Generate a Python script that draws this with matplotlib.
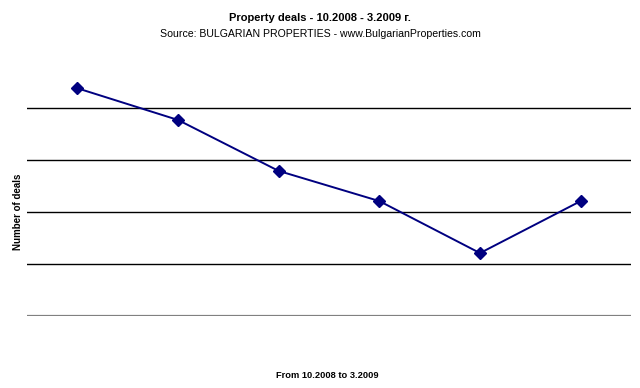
import matplotlib
matplotlib.use("Agg")
import matplotlib.pyplot as plt

# monthly deals (no scale shown on the original)
months = ["10.2008", "11.2008", "12.2008", "1.2009", "2.2009", "3.2009"]
deals = [4.38, 3.77, 2.79, 2.21, 1.21, 2.21]
grid_levels = [1, 2, 3, 4]

plt.rcParams['font.family'] = ['Liberation Sans', 'DejaVu Sans']

fig = plt.figure(figsize=(6.4, 3.88), dpi=100)
ax = fig.add_axes([27/640, 1 - 316/388, 604/640, 260/388])

xs = [i + 0.5 for i in range(len(months))]
ax.plot(xs, deals, color="#000080", linewidth=1.4, marker="D", markersize=6)

for g in grid_levels:
    ax.axhline(g, color="#000000", linewidth=1.0, zorder=0)
ax.axhline(0, color="#808080", linewidth=1.6, zorder=0)

ax.set_xlim(0, len(months))
ax.set_ylim(0, 5)
ax.set_xticks([])
ax.set_yticks([])
for s in ax.spines.values():
    s.set_visible(False)

fig.text(0.5, 1 - 18/388, "Property deals - 10.2008 - 3.2009 г.", ha="center", va="center",
         fontsize=8, fontweight="bold")
fig.text(0.5, 1 - 34/388, "Source: BULGARIAN PROPERTIES - www.BulgarianProperties.com",
         ha="center", va="center", fontsize=7.6)
fig.text(18/640, 1 - 212/388, "Number of deals", rotation=90, ha="center", va="center",
         fontsize=7, fontweight="bold")
fig.text(327/640, 1 - 376/388, "From 10.2008 to 3.2009", ha="center", va="center",
         fontsize=6.7, fontweight="bold")

fig.savefig("out.png", dpi=100)
